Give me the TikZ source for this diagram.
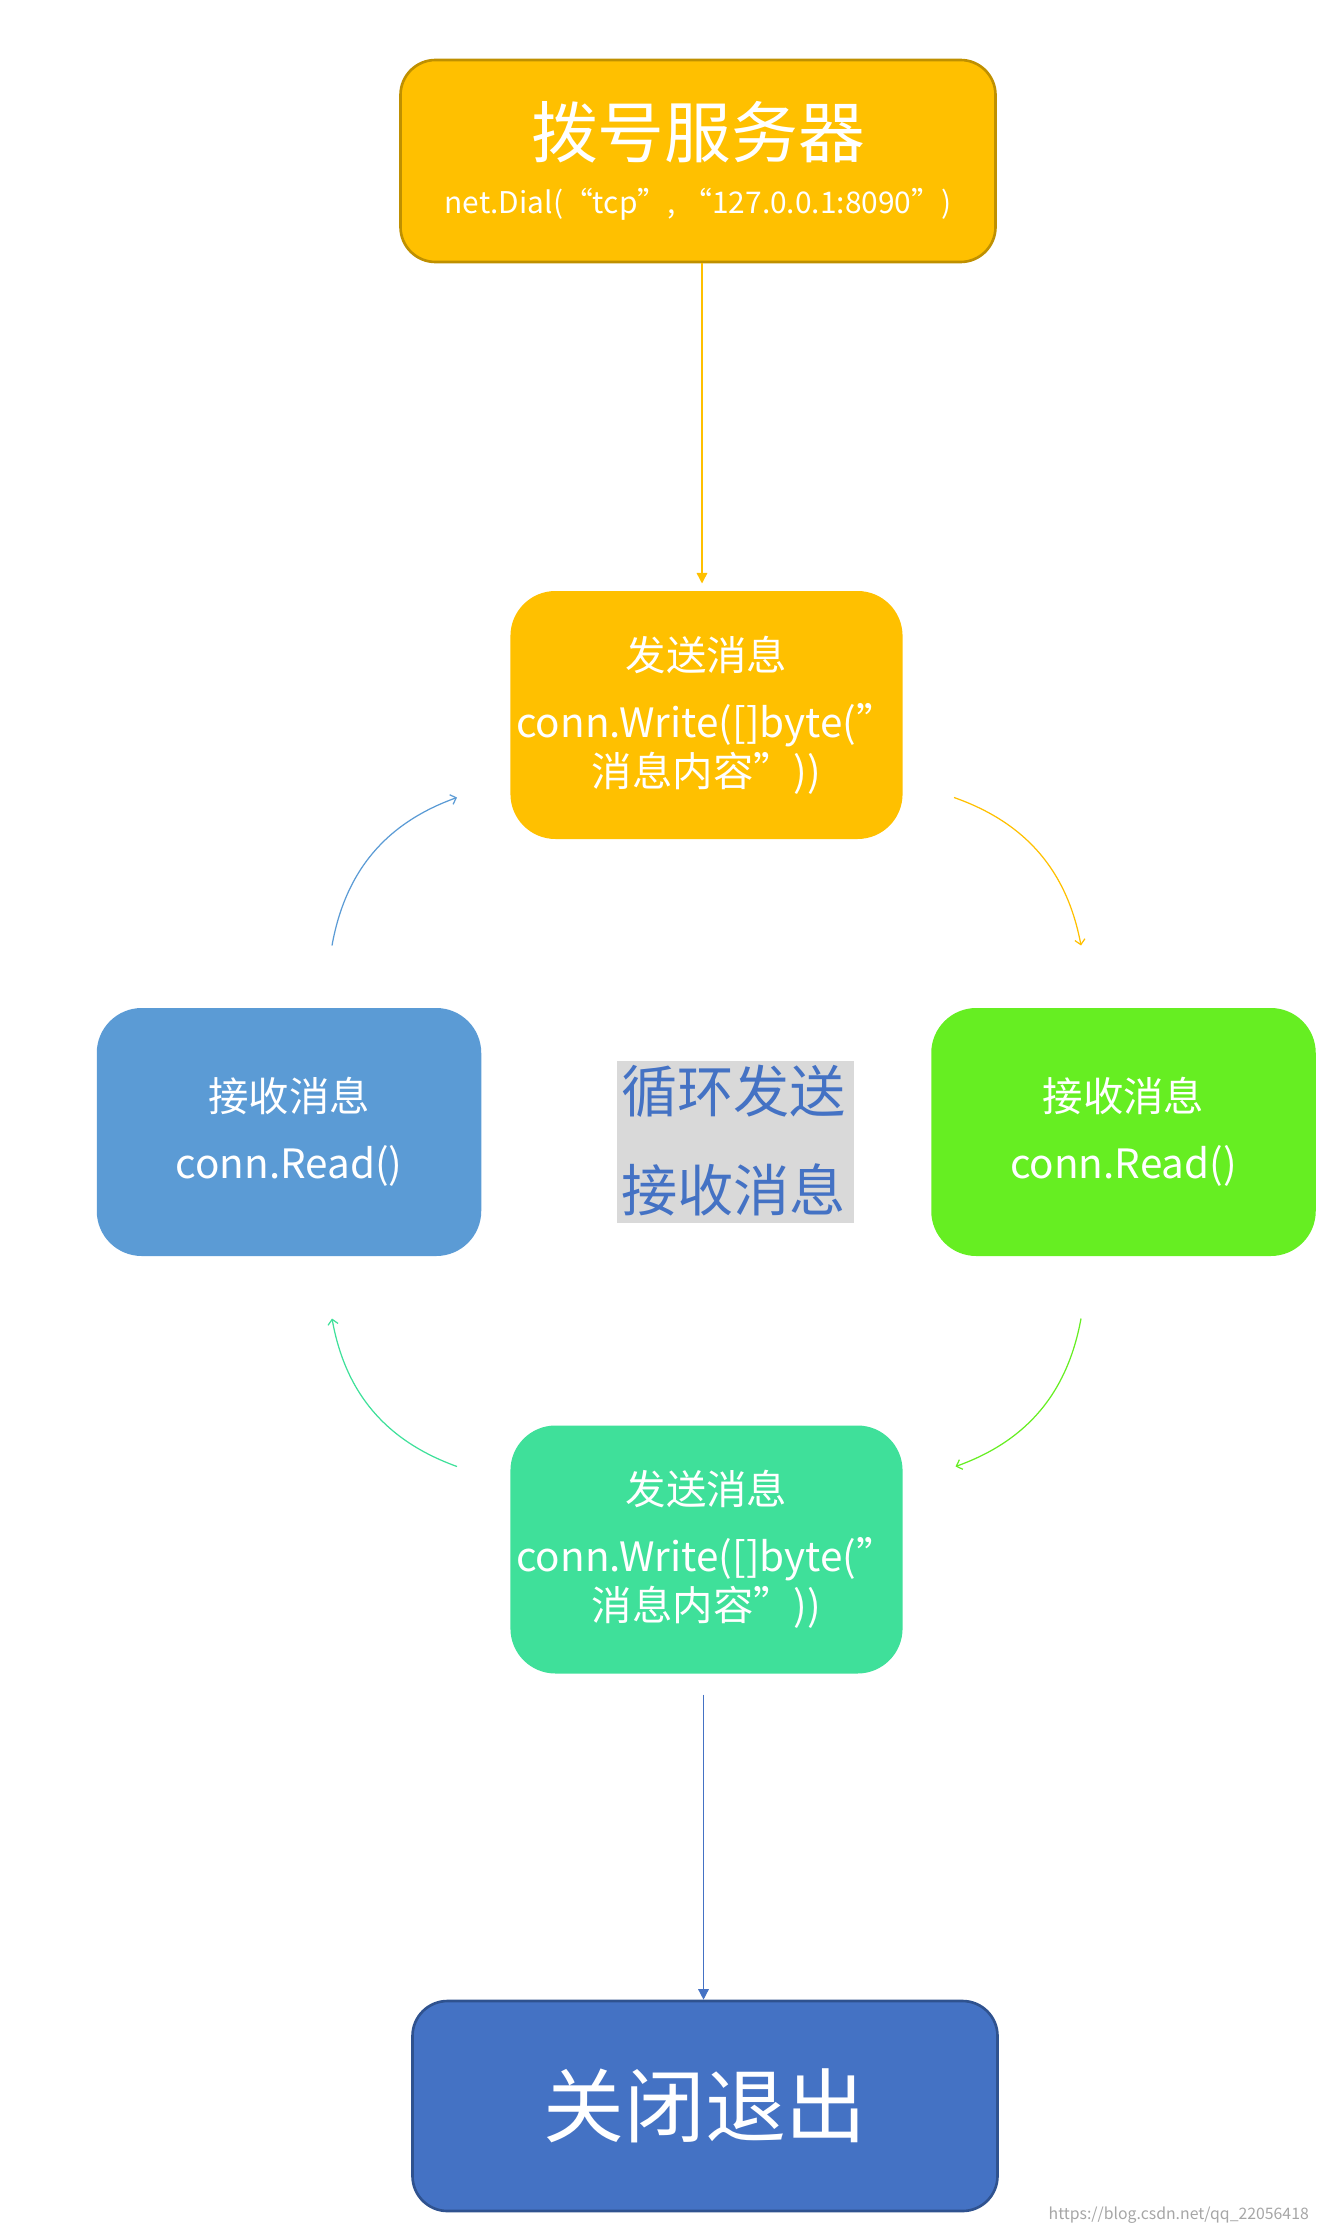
\documentclass[tikz,border=0pt]{standalone}
\usepackage{fontspec}
\setmainfont{Noto Sans CJK SC}
\usetikzlibrary{arrows.meta,positioning,shadows}
\definecolor{gold}{HTML}{FFC000}
\definecolor{golddark}{HTML}{BF9000}
\definecolor{lime}{HTML}{66EE22}
\definecolor{skyblue}{HTML}{5B9BD5}
\definecolor{mint}{HTML}{3FE09A}
\definecolor{royal}{HTML}{4472C4}
\definecolor{royaldark}{HTML}{2F528F}
\begin{document}
\begin{tikzpicture}
    [>=Straight Barb, box/.style={rectangle, rounded corners=0.9cm, minimum width=7.69cm,
    minimum height=4.96cm, text=white, align=center, font=\fontsize{23}{34}\selectfont},
    cycle/.style={->, thin, bend left=30, line width=0.7pt}]
    \useasboundingbox (0,0) rectangle (26.32,-44.72);
    % Nodes placement
    \node [box, draw=golddark, line width=1.5pt, fill=gold, minimum width=11.9cm, minimum height=4.04cm,
      rounded corners=0.7cm] (dial) at (13.96,-3.22)
      {{\fontsize{38}{44}\selectfont 拨号服务器}\\[-2pt]{\fontsize{17}{20}\selectfont net.Dial(“tcp”, “127.0.0.1:8090”)}};
    \node [box, fill=gold] (send1) at (14.13,-14.30) {发送消息\\[4pt]conn.Write([]byte("\\[-6pt]消息内容"))};
    \node [box, fill=lime] (recv1) at (22.47,-22.64) {接收消息\\[4pt]conn.Read()};
    \node [box, fill=skyblue] (recv2) at (5.78,-22.64) {接收消息\\[4pt]conn.Read()};
    \node [box, fill=mint] (send2) at (14.13,-30.99) {发送消息\\[4pt]conn.Write([]byte("\\[-6pt]消息内容"))};
    \node [box, draw=royaldark, line width=1.5pt, fill=royal, minimum width=11.7cm, minimum height=4.2cm,
      rounded corners=0.7cm, font=\fontsize{46}{50}\selectfont] (close) at (14.10,-42.12) {关闭退出};
    \node [text=royal, align=center, font=\fontsize{32}{56}\selectfont,
      drop shadow={shadow xshift=1pt, shadow yshift=-1pt, opacity=0.3}] (loop) at (14.67,-22.81) {循环发送\\接收消息};
    \node [text=gray!70, font=\fontsize{9}{10}\selectfont, anchor=south east] (mark) at (26.3,-44.6)
      {https://blog.csdn.net/qq\_22056418};

    % Curve ends
    \coordinate (a1) at (19.08,-15.95); \coordinate (a2) at (21.62,-18.91);
    \coordinate (b1) at (21.62,-26.37); \coordinate (b2) at (19.11,-29.33);
    \coordinate (c1) at (9.14,-29.33);  \coordinate (c2) at (6.64,-26.37);
    \coordinate (d1) at (6.64,-18.91);  \coordinate (d2) at (9.14,-15.95);

    % Draw edges
    \draw [-{Triangle[length=6pt,width=6pt]}, gold, line width=0.8pt, shorten >=0.15cm] (dial.south -| 14.04,0) -- (14.04,-11.82);
    \draw [cycle, gold] (a1) to (a2);
    \draw [cycle, lime] (b1) to (b2);
    \draw [cycle, mint] (c1) to (c2);
    \draw [cycle, skyblue] (d1) to (d2);
    \draw [-{Triangle[length=6pt,width=6pt]}, royal, line width=0.8pt] (14.07,-33.89) -- (close.north -| 14.07,0);
\end{tikzpicture}
\end{document}
